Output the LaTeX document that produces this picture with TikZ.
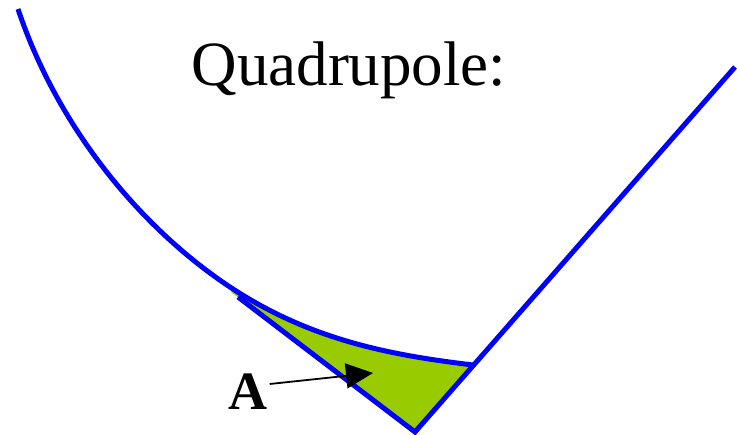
\documentclass[tikz,border=0pt]{standalone}
\usepackage{fontspec}
\setmainfont{Liberation Serif}
\usetikzlibrary{arrows.meta, positioning}
\definecolor{poleblue}{RGB}{0,0,255}
\definecolor{areagreen}{RGB}{153,204,0}
\tikzset{
    pole/.style={draw=poleblue, line width=5pt, line join=miter},
    area/.style={fill=areagreen, draw=none},
    arrow/.style={line width=1.8pt, -{Triangle[length=27pt, width=25pt]}, black}
}

\begin{document}
\begin{tikzpicture}[x=1pt, y=-1pt]
    \useasboundingbox (0,0) rectangle (737,435);

    % Points of the pole contour
    \coordinate (top) at (18,9);
    \coordinate (mid) at (233,289);
    \coordinate (bot) at (473,365);
    \coordinate (apex) at (415,432);
    \coordinate (tipL) at (238,297);
    \coordinate (tipR) at (735,67);

    % Area
    \fill[area] (231,292) -- (mid) .. controls (313,341) and (393,355.4) .. (bot)
        -- (apex) -- cycle;

    % Pole contour
    \draw[pole] (top) .. controls (58,129) and (143,230.5) .. (mid)
        .. controls (313,341) and (393,355.4) .. (bot);
    \draw[pole] (tipL) -- (apex) -- (tipR);

    % Labels
    \node[font=\fontsize{63}{70}\selectfont] (title) at (349,70) {Quadrupole:};
    \node[font=\fontsize{54}{60}\selectfont\bfseries, inner sep=0pt] (lblA) at (248,392) {A};
    \coordinate (inA) at (373,373);

    % Arrow
    \draw[arrow] (lblA.east) ++(2,-8) coordinate (startA) (startA) -- (inA);
\end{tikzpicture}
\end{document}
